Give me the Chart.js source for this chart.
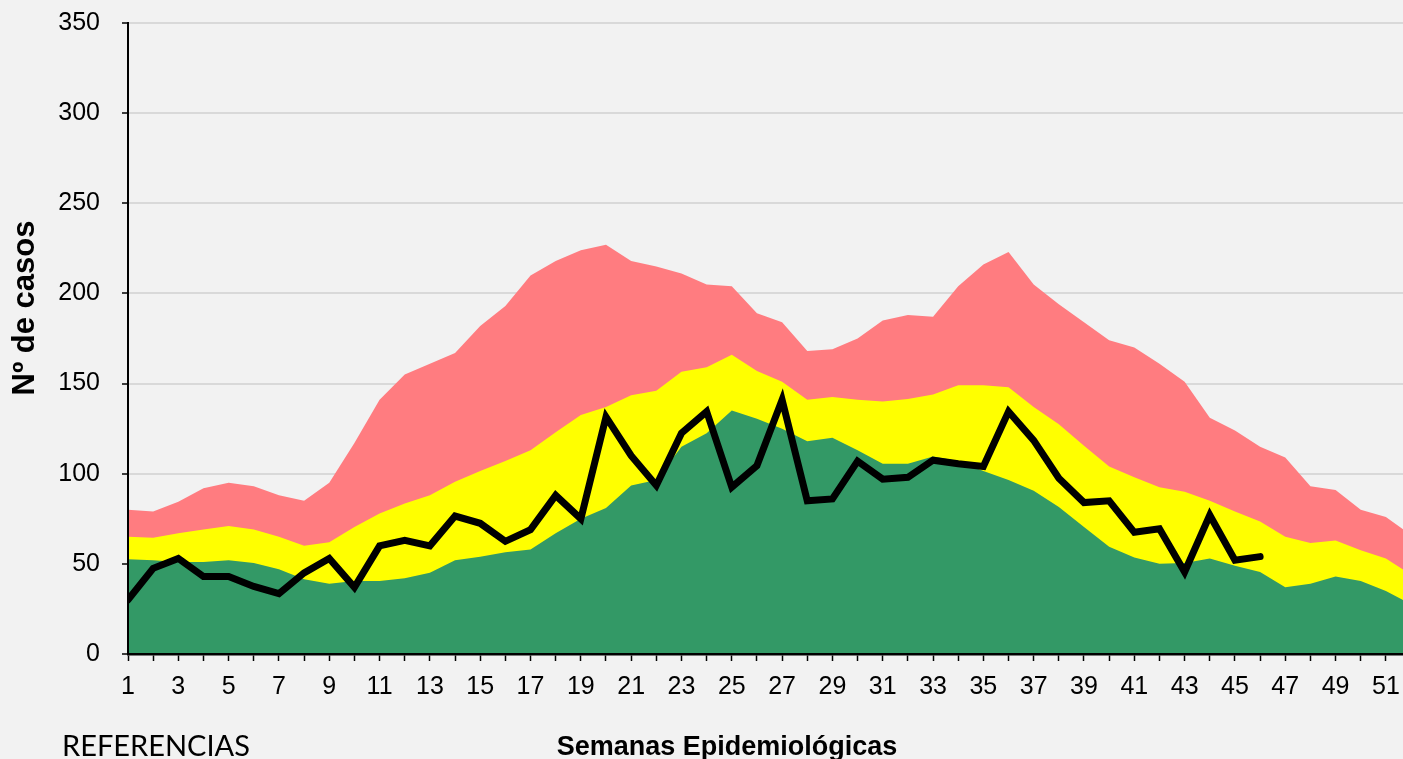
<!DOCTYPE html>
<html>
<head>
<meta charset="utf-8">
<script src="https://cdn.jsdelivr.net/npm/chart.js@4.4.1/dist/chart.umd.min.js"></script>
<style>
  html, body { margin: 0; padding: 0; background: #F2F2F2; overflow: hidden; }
  #wrap { position: relative; width: 1403px; height: 759px; }
  canvas { display: block; }
</style>
</head>
<body>
<div id="wrap"><canvas id="c" width="1403" height="759"></canvas></div>
<script>
// ---- Data ----
const weeks = [1,2,3,4,5,6,7,8,9,10,11,12,13,14,15,16,17,18,19,20,21,22,23,24,25,26,
               27,28,29,30,31,32,33,34,35,36,37,38,39,40,41,42,43,44,45,46,47,48,49,50,51,52];

// Upper band (red / "epidemia")
const redUpper = [80,79,84.5,92,95,93,88,85,95,117,141,155,161,167,182,193,210,218,224,227,
                  218,215,211,205,204,189,184,168,169,175,185,188,187,204,216,223,205,194,184,174,
                  170,161,151,131,124,115,109,93,91,80,76,66];

// Middle band (yellow / "alerta")
const yellowUpper = [65,64.5,67,69,71,69,65,60,62,70.5,78,83.5,88,95.5,101.5,107,113,123,132.5,137,
                     143.5,146,156.5,159,166,157,151,141,142.5,141,140,141.5,144,149,149,148,137,127.5,115.5,104,
                     98,92.5,90,85,79,73.5,65,61.5,63,57.5,53,44];

// Lower band (green / "seguridad")
const greenUpper = [52.5,52,51,51,52,50.5,47,41.5,39,40.5,40.5,42,45,52,54,56.5,58,67,75,81,
                    93.5,96.5,115,122.5,135,130.5,125,118,120,113,105.5,105.5,109.5,107,101.5,96.5,90.5,81.5,70.5,59.5,
                    53.5,50,50.5,53,49,45.5,37,39,43,40.5,35,27.5];

// Current year cases (black line), weeks 1-46
const currentCases = [30,47.5,53,43,43,37.5,33.5,45,53,37,60,63,60,76.5,72.5,62.5,69,88,75,131.5,
                      110,93.5,122.5,134.5,92.5,104.5,141,85,86,107,97,98,107.5,105.5,104,134.5,118.5,97.5,84,85,
                      67.5,69.5,45.5,77,52,54];

// Tick labels: odd weeks labelled
const xTickLabels = weeks.map(w => (w % 2 === 1 ? String(w) : ''));
const yTicks = [0, 50, 100, 150, 200, 250, 300, 350];

const yTitle = 'Nº de casos';
const xTitle = 'Semanas Epidemiológicas';
const footerText = 'REFERENCIAS';

// ---- Chart ----
const tickFont = "'Liberation Sans', Arial, sans-serif";

const textPlugin = {
  id: 'extraText',
  afterDraw(chart) {
    const ctx = chart.ctx;
    ctx.save();
    ctx.fillStyle = '#000';
    // Y-axis title
    ctx.save();
    ctx.translate(25, 308);
    ctx.rotate(-Math.PI / 2);
    ctx.font = "bold 31px 'Liberation Sans', Arial, sans-serif";
    ctx.textAlign = 'center';
    ctx.textBaseline = 'middle';
    ctx.fillText(yTitle, 0, 0);
    ctx.restore();
    // X-axis title
    ctx.font = "bold 27px 'Liberation Sans', Arial, sans-serif";
    ctx.textAlign = 'center';
    ctx.textBaseline = 'alphabetic';
    ctx.fillText(xTitle, 727, 755);
    // Footer text
    ctx.font = "29px Lato, 'Open Sans', sans-serif";
    ctx.textAlign = 'left';
    ctx.fillText(footerText, 62, 756);
    ctx.restore();
  }
};

const ctx = document.getElementById('c').getContext('2d');
new Chart(ctx, {
  type: 'line',
  data: {
    labels: weeks,
    datasets: [
      {
        label: 'Casos',
        data: currentCases,
        borderColor: '#000000',
        borderWidth: 7,
        borderCapStyle: 'round',
        borderJoinStyle: 'miter',
        pointRadius: 0,
        fill: false,
        tension: 0,
        order: 0
      },
      {
        label: 'Seguridad',
        data: greenUpper,
        borderWidth: 0,
        borderColor: 'rgba(0,0,0,0)',
        backgroundColor: '#339966',
        pointRadius: 0,
        fill: 'origin',
        tension: 0,
        order: 1
      },
      {
        label: 'Alerta',
        data: yellowUpper,
        borderWidth: 0,
        borderColor: 'rgba(0,0,0,0)',
        backgroundColor: '#FFFF00',
        pointRadius: 0,
        fill: 'origin',
        tension: 0,
        order: 2
      },
      {
        label: 'Epidemia',
        data: redUpper,
        borderWidth: 0,
        borderColor: 'rgba(0,0,0,0)',
        backgroundColor: '#FF7C80',
        pointRadius: 0,
        fill: 'origin',
        tension: 0,
        order: 3
      }
    ]
  },
  options: {
    responsive: false,
    animation: false,
    layout: { padding: { top: 23, left: 0, right: 0, bottom: 0 } },
    plugins: {
      legend: { display: false },
      tooltip: { enabled: false },
      filler: { propagate: false }
    },
    scales: {
      x: {
        type: 'linear',
        min: 1,
        max: 51.68,
        afterFit(s) { s.height = 105; s.paddingLeft = 0; s.paddingRight = 0; },
        ticks: {
          stepSize: 1,
          includeBounds: false,
          autoSkip: false,
          maxRotation: 0,
          minRotation: 0,
          padding: 11,
          color: '#000',
          font: { family: tickFont, size: 25 },
          callback: (v, i) => xTickLabels[weeks.indexOf(v)] ?? ''
        },
        grid: {
          drawOnChartArea: false,
          tickLength: 7,
          tickColor: '#000',
          tickWidth: 1.5
        },
        border: { color: '#000', width: 2.5, z: 1 }
      },
      y: {
        min: 0,
        max: 350,
        afterBuildTicks(s) { s.ticks = yTicks.map(v => ({ value: v })); },
        afterFit(s) { s.width = 128; s.paddingTop = 0; s.paddingBottom = 0; },
        ticks: {
          stepSize: 50,
          padding: 22,
          color: '#000',
          font: { family: tickFont, size: 25 }
        },
        grid: {
          color: '#D9D9D9',
          lineWidth: 2,
          tickLength: 6,
          tickColor: '#000',
          tickWidth: 1.5
        },
        border: { color: '#000', width: 2, z: 1 }
      }
    }
  },
  plugins: [textPlugin]
});
</script>
</body>
</html>
